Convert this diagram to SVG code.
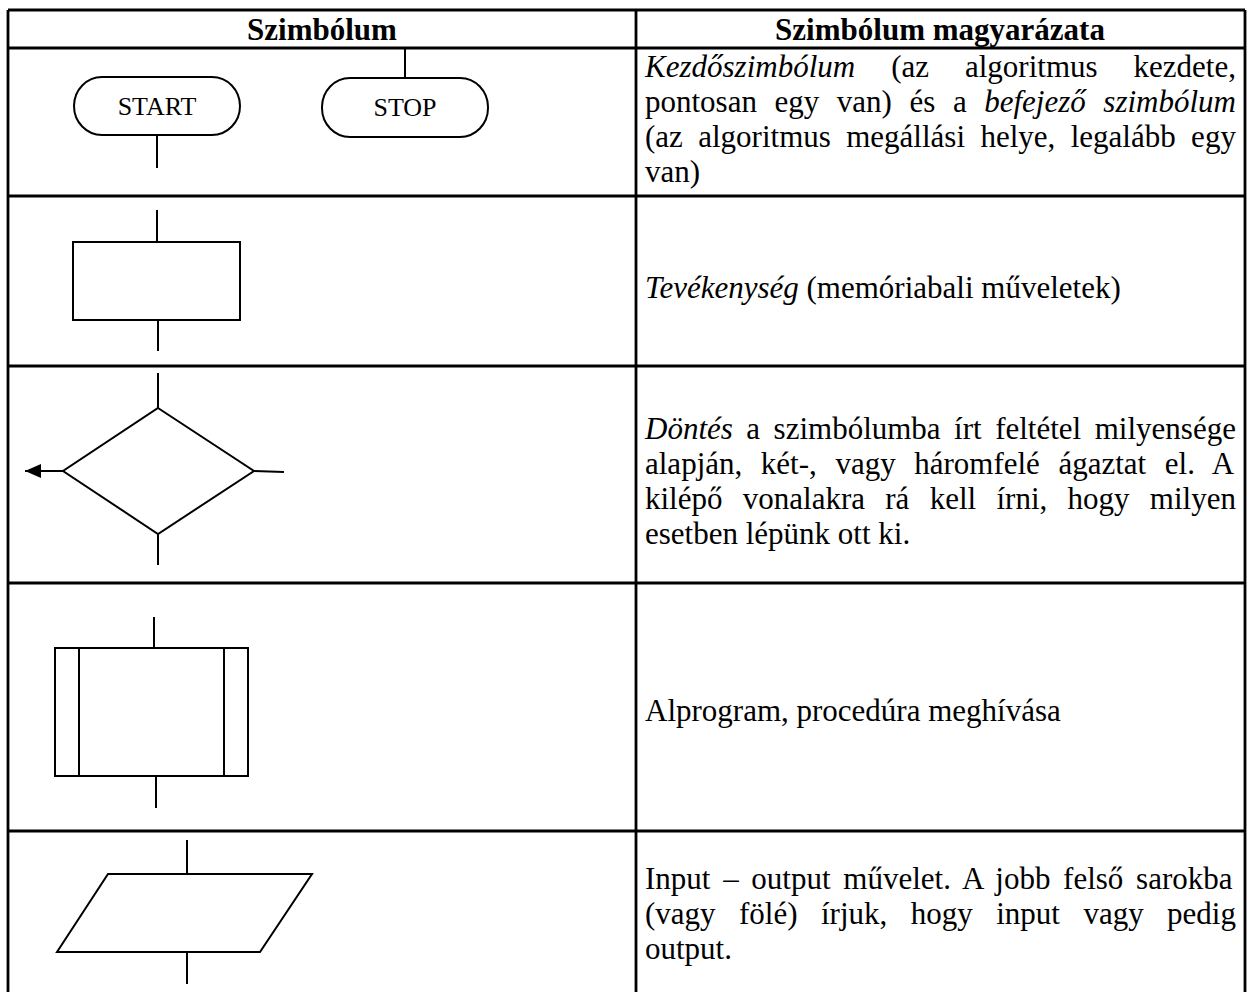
<svg xmlns="http://www.w3.org/2000/svg" width="1249" height="992" viewBox="0 0 1249 992">
  <style>
    .grid { stroke: #000; stroke-width: 2.8; fill: none; }
    .sym { stroke: #000; stroke-width: 2; fill: none; }
    .wire { stroke: #000; stroke-width: 2; fill: none; }
    .hdr { font-family: "Liberation Serif", "Times New Roman", serif; font-size: 31px; font-weight: bold; fill: #000; text-anchor: middle; }
    .txt { font-family: "Liberation Serif", "Times New Roman", serif; font-size: 31px; fill: #000; }
    .lbl { font-family: "Liberation Serif", "Times New Roman", serif; font-size: 26px; fill: #000; text-anchor: middle; }
    .it { font-style: italic; }
  </style>
  <defs>
    <marker id="arrow" viewBox="0 0 16 14" refX="16" refY="7" markerWidth="16" markerHeight="14" markerUnits="userSpaceOnUse" orient="auto">
      <path d="M0,0 L16,7 L0,14 Z" fill="#000"/>
    </marker>
  </defs>
  <rect width="1249" height="992" fill="#fff"/>

  <!-- table grid -->
  <g id="table">
    <path class="grid" d="M8,10 V992 M636,10 V992 M1245,10 V992"/>
    <path class="grid" d="M8,10 H1245 M8,48 H1245 M8,196 H1245 M8,366 H1245 M8,583 H1245 M8,831 H1245"/>
    <text class="hdr" x="322" y="40">Szimbólum</text>
    <text class="hdr" x="940" y="40">Szimbólum magyarázata</text>
  </g>

  <!-- flowchart symbols -->
  <g id="start">
    <rect class="sym" x="74" y="77" width="166" height="58" rx="28" ry="29"/>
    <text class="lbl" x="157" y="115">START</text>
  </g>
  <g id="stop">
    <rect class="sym" x="322" y="78" width="166" height="59" rx="28" ry="29"/>
    <text class="lbl" x="405" y="116">STOP</text>
  </g>
  <g id="activity">
    <rect class="sym" x="73" y="242" width="167" height="78"/>
  </g>
  <g id="decision">
    <polygon class="sym" points="158,408 254,471 158,534 63,471"/>
  </g>
  <g id="subroutine">
    <rect class="sym" x="55" y="648" width="193" height="128"/>
    <path class="sym" d="M79,648 V776 M224,648 V776"/>
  </g>
  <g id="io">
    <polygon class="sym" points="108,874 312,874 260,952 57,952"/>
  </g>

  <!-- connector stubs -->
  <g id="connectors">
    <path class="wire" d="M157,135 V168"/>
    <path class="wire" d="M405,48 V78"/>
    <path class="wire" d="M157,210 V242"/>
    <path class="wire" d="M158,320 V351"/>
    <path class="wire" d="M158,373 V408"/>
    <path class="wire" d="M158,534 V565"/>
    <path class="wire" d="M254,471 L284,472"/>
    <path class="wire" d="M63,471 H25" marker-end="url(#arrow)"/>
    <path class="wire" d="M154,617 V648"/>
    <path class="wire" d="M156,776 V808"/>
    <path class="wire" d="M187,840 V874"/>
    <path class="wire" d="M187,952 V984"/>
  </g>

  <!-- explanations (justified lines use word-spacing) -->
  <g id="desc-terminal" class="txt">
    <text x="645" y="77" word-spacing="28.25"><tspan class="it">Kezdőszimbólum</tspan> (az algoritmus kezdete,</text>
    <text x="645" y="112" word-spacing="9.82">pontosan egy van) és a <tspan class="it">befejező szimbólum</tspan></text>
    <text x="645" y="147" word-spacing="7.65">(az algoritmus megállási helye, legalább egy</text>
    <text x="645" y="182">van)</text>
  </g>
  <g id="desc-activity" class="txt">
    <text x="645" y="298"><tspan class="it">Tevékenység</tspan> (memóriabali műveletek)</text>
  </g>
  <g id="desc-decision" class="txt">
    <text x="645" y="439" word-spacing="5.75"><tspan class="it">Döntés</tspan> a szimbólumba írt feltétel milyensége</text>
    <text x="645" y="474" word-spacing="10.84">alapján, két-, vagy háromfelé ágaztat el. A</text>
    <text x="645" y="509" word-spacing="12.55">kilépő vonalakra rá kell írni, hogy milyen</text>
    <text x="645" y="544">esetben lépünk ott ki.</text>
  </g>
  <g id="desc-subroutine" class="txt">
    <text x="645" y="721">Alprogram, procedúra meghívása</text>
  </g>
  <g id="desc-io" class="txt">
    <text x="645" y="889" word-spacing="4.96">Input – output művelet. A jobb felső sarokba</text>
    <text x="645" y="924" word-spacing="15.7">(vagy fölé) írjuk, hogy input vagy pedig</text>
    <text x="645" y="959">output.</text>
  </g>
</svg>
